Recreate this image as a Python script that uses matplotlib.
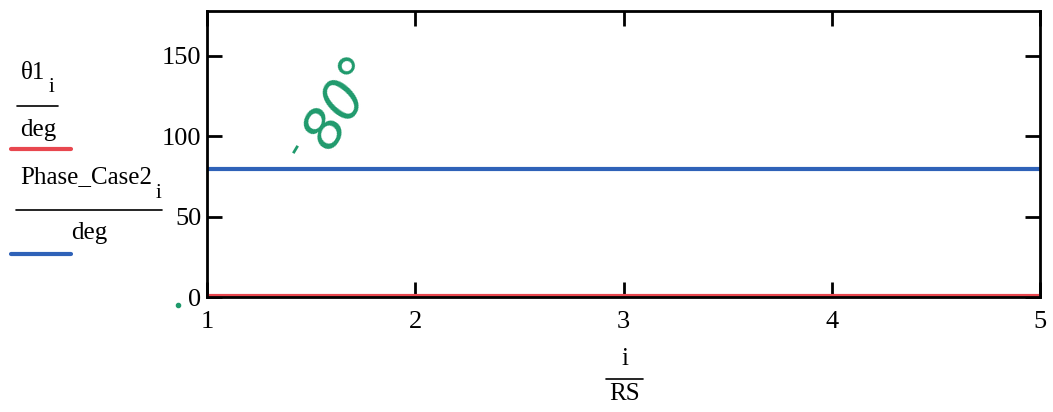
import matplotlib.pyplot as plt
from matplotlib.lines import Line2D

# data
i_vals = [1, 2, 3, 4, 5]
theta1_deg = [0.5, 0.5, 0.5, 0.5, 0.5]
phase_case2_deg = [79.5, 79.5, 79.5, 79.5, 79.5]
x_ticks = [1, 2, 3, 4, 5]
y_ticks = [0, 50, 100, 150]

red = "#e8474f"
blue = "#2f62b8"
green = "#1f9a6c"

plt.rcParams["font.family"] = ["Liberation Serif", "DejaVu Serif"]

W, H = 1053, 412
fig = plt.figure(figsize=(W / 100, H / 100), dpi=100)
ax = fig.add_axes([207 / W, 1 - 297 / H, (1040 - 207) / W, (297 - 11) / H])

ax.plot(i_vals, theta1_deg, color=red, lw=3)
ax.plot(i_vals, phase_case2_deg, color=blue, lw=3)

ax.set_xlim(1, 5)
ax.set_ylim(0, 178)
ax.set_xticks(x_ticks)
ax.set_yticks(y_ticks)
ax.tick_params(direction="in", length=11, width=2, labelsize=19,
               top=True, right=True, pad=4)
ax.tick_params(axis="x", pad=10)
for s in ax.spines.values():
    s.set_linewidth(2)

# handwritten note
ax.text(1.65, 121, "80°", color=green, fontsize=40, rotation=58,
        ha="center", va="center", style="italic",
        family=["DejaVu Sans"])


def fx(px):
    return px / W


def fy(py):
    return 1 - py / H


def hline(x0, x1, y, color="black", lw=1.2):
    fig.add_artist(Line2D([fx(x0), fx(x1)], [fy(y), fy(y)], color=color,
                          lw=lw, solid_capstyle="round"))


# stray pen marks
fig.add_artist(Line2D([fx(294), fx(297)], [fy(152), fy(147)], color=green, lw=2))
fig.add_artist(Line2D([fx(178)], [fy(305)], color=green, marker="o", ms=3, lw=0))

# legend-like labels on the left
fs = 18
fig.text(fx(33), fy(73), r"θ1", fontsize=fs, ha="center", va="center")
fig.text(fx(51), fy(88), "i", fontsize=fs - 3, ha="center", va="center")
hline(17, 58, 106)
fig.text(fx(38), fy(130), "deg", fontsize=fs, ha="center", va="center")
hline(11, 71, 149, red, 3)

fig.text(fx(20), fy(177), "Phase_Case2", fontsize=fs, ha="left", va="center")
fig.text(fx(158), fy(194), "i", fontsize=fs - 3, ha="center", va="center")
hline(16, 162, 210)
fig.text(fx(89), fy(233), "deg", fontsize=fs, ha="center", va="center")
hline(11, 71, 254, blue, 3)

# x axis label
fig.text(fx(625), fy(359), "i", fontsize=fs, ha="center", va="center")
hline(606, 643, 379)
fig.text(fx(625), fy(394), "RS", fontsize=fs, ha="center", va="center")

fig.savefig("out.png", dpi=100)
